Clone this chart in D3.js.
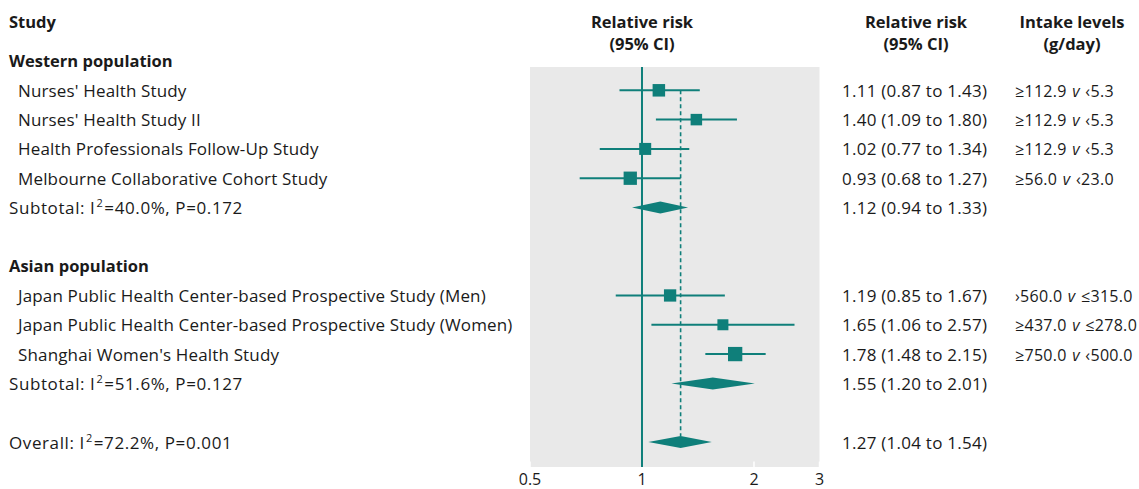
<!DOCTYPE html>
<html><head><meta charset="utf-8">
<script src="https://cdn.jsdelivr.net/npm/d3@7"></script>
<style>
html,body{margin:0;padding:0;background:#fff;}
svg text{font-family:"Open Sans","Noto Sans",sans-serif;fill:#1a1a1a;}
</style></head>
<body><svg id="c" width="1139" height="489"></svg>
<script>
// ---- data ----
const studyNames = ["Nurses' Health Study","Nurses' Health Study II","Health Professionals Follow-Up Study","Melbourne Collaborative Cohort Study",
  "Japan Public Health Center-based Prospective Study (Men)","Japan Public Health Center-based Prospective Study (Women)","Shanghai Women's Health Study"];
const studyRR = [1.11,1.40,1.02,0.93,1.19,1.65,1.78];
const studyLo = [0.87,1.09,0.77,0.68,0.85,1.06,1.48];
const studyHi = [1.43,1.80,1.34,1.27,1.67,2.57,2.15];
const studyWeight = [12.5,11.5,12,13.3,12.3,11,14.3];
const studyIntakeA = ["≥112.9","≥112.9","≥112.9","≥56.0","›560.0","≥437.0","≥750.0"];
const studyIntakeB = ["‹5.3","‹5.3","‹5.3","‹23.0","≤315.0","≤278.0","‹500.0"];
const studyRow = [1,2,3,4,8,9,10];
const groupNames = ["Western population","Asian population"];
const groupRow = [0,7];
const summaryLabels = [["Subtotal: I","=40.0%, P=0.172"],["Subtotal: I","=51.6%, P=0.127"],["Overall: I","=72.2%, P=0.001"]];
const summaryRR = [1.12,1.55,1.27];
const summaryLo = [0.94,1.20,1.04];
const summaryHi = [1.33,2.01,1.54];
const summaryRow = [5,11,13];
const tickValues = [0.5,1,2,3];
const tickLabels = ["0.5","1","2","3"];

const teal = "#0f7f7a";
const svg = d3.select("#c");
const x = d3.scaleLog().domain([0.5,3]).range([530,819.5]);
const y = d3.scaleLinear().domain([0,13]).range([61,442]);
const fmt = d3.format(".2f");
const rrText = (r,l,h)=>`${fmt(r)} (${fmt(l)} to ${fmt(h)})`;
const FS = "17px";

// headers
const hdr = svg.append("g").attr("font-weight","bold").style("font-size","16.5px");
hdr.append("text").attr("x",9).attr("y",28).text("Study");
[["Relative risk","(95% CI)",x(1)],["Relative risk","(95% CI)",916],["Intake levels","(g/day)",1072]].forEach(h=>{
  hdr.append("text").attr("x",h[2]).attr("y",28).attr("text-anchor","middle").text(h[0]);
  hdr.append("text").attr("x",h[2]).attr("y",50).attr("text-anchor","middle").text(h[1]);
});

// plot background
svg.append("rect").attr("x",x(0.5)).attr("y",67).attr("width",x(3)-x(0.5)).attr("height",400).attr("fill","#e9e9e9");
// ticks
svg.selectAll(".tk").data(tickValues).join("line")
  .attr("x1",d=>x(d)).attr("x2",d=>x(d)).attr("y1",461.5).attr("y2",467)
  .attr("stroke","#fff").attr("stroke-width",1.5);
svg.selectAll(".tl").data(tickValues).join("text")
  .attr("x",d=>x(d)).attr("y",485).attr("text-anchor","middle").style("font-size","16px")
  .text((d,i)=>tickLabels[i]);

// null line
svg.append("line").attr("x1",x(1)).attr("x2",x(1)).attr("y1",67).attr("y2",467).attr("stroke",teal).attr("stroke-width",2);
// overall dashed line
svg.append("line").attr("x1",x(summaryRR[2])).attr("x2",x(summaryRR[2])).attr("y1",y(1)).attr("y2",y(13)-6)
  .attr("stroke",teal).attr("stroke-width",1.6).attr("stroke-dasharray","4,3");

// group labels
svg.selectAll(".gl").data(groupNames).join("text")
  .attr("x",9).attr("y",(d,i)=>y(groupRow[i])+6).attr("font-weight","bold").style("font-size","16.5px").text(d=>d);

// studies
const sg = svg.append("g");
studyNames.forEach((n,i)=>{
  const yy = y(studyRow[i]);
  sg.append("text").attr("x",18).attr("y",yy+6.5).style("font-size",FS).style("letter-spacing","0.15px").text(n);
  sg.append("line").attr("x1",x(studyLo[i])).attr("x2",x(studyHi[i])).attr("y1",yy).attr("y2",yy).attr("stroke",teal).attr("stroke-width",2);
  const s = studyWeight[i];
  sg.append("rect").attr("x",x(studyRR[i])-s/2).attr("y",yy-s/2).attr("width",s).attr("height",s).attr("fill",teal);
  sg.append("text").attr("x",842).attr("y",yy+6.5).style("font-size",FS).style("letter-spacing","0.25px")
    .text(rrText(studyRR[i],studyLo[i],studyHi[i]));
  const t = sg.append("text").attr("x",1015).attr("y",yy+6.5).style("font-size","16px")
    .style("letter-spacing","0.3px").style("word-spacing","1px");
  t.append("tspan").text(studyIntakeA[i]+" ");
  t.append("tspan").attr("font-style","italic").text("v");
  t.append("tspan").text(" "+studyIntakeB[i]);
});

// summaries
summaryLabels.forEach((l,i)=>{
  const yy = y(summaryRow[i]);
  const t = sg.append("text").attr("x",9).attr("y",yy+6.5).style("font-size",FS).style("letter-spacing","0.6px");
  t.append("tspan").text(l[0]);
  t.append("tspan").attr("dy",-7).attr("dx",1).style("font-size","11px").text("2");
  t.append("tspan").attr("dy",7).attr("dx",1).text(l[1]);
  const h = 6;
  sg.append("path").attr("fill",teal)
    .attr("d",`M${x(summaryLo[i])},${yy} L${x(summaryRR[i])},${yy-h} L${x(summaryHi[i])},${yy} L${x(summaryRR[i])},${yy+h} Z`);
  sg.append("text").attr("x",842).attr("y",yy+6.5).style("font-size",FS).style("letter-spacing","0.25px")
    .text(rrText(summaryRR[i],summaryLo[i],summaryHi[i]));
});
</script></body></html>
